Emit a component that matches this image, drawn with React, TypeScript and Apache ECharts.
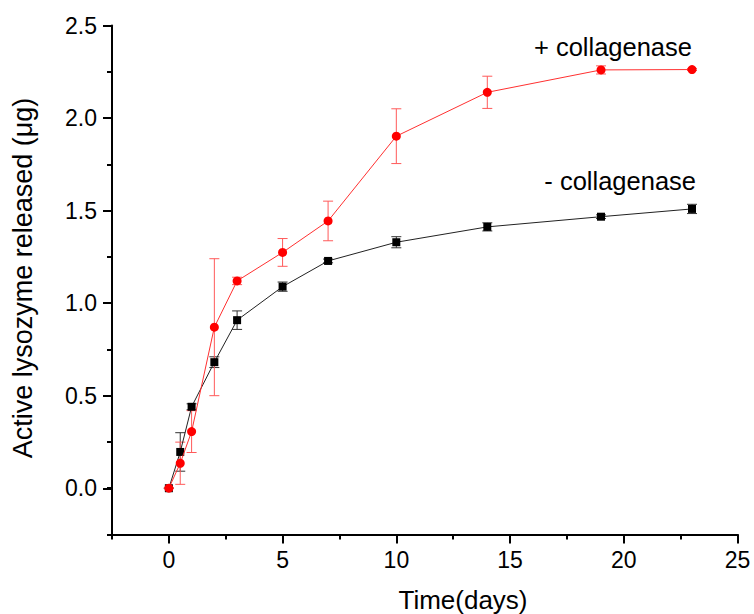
import React, { useEffect, useRef } from "react";
import * as echarts from "echarts";

const days = [0, 0.5, 1, 2, 3, 5, 7, 10, 14, 19, 23];
const plusValues = [0, 0.135, 0.306, 0.87, 1.12, 1.274, 1.444, 1.902, 2.139, 2.26, 2.262];
const plusErrors = [0, 0.114, 0.113, 0.37, 0.02, 0.075, 0.107, 0.148, 0.087, 0.022, 0.005];
const minusValues = [0, 0.196, 0.44, 0.681, 0.908, 1.089, 1.228, 1.329, 1.412, 1.467, 1.509];
const minusErrors = [0, 0.104, 0.016, 0.029, 0.05, 0.025, 0.01, 0.03, 0.022, 0.01, 0.025];
const xTicks = [0, 5, 10, 15, 20, 25];
const yTicks = [0, 0.5, 1, 1.5, 2, 2.5];
const plusLabel = "+ collagenase";
const minusLabel = "- collagenase";
const xTitle = "Time(days)";
const yTitle = "Active lysozyme released (μg)";

const FONT = "'Liberation Sans', Arial, Helvetica, sans-serif";

function errorBarSeries(values: number[], errors: number[], color: string) {
  return {
    type: "custom",
    xAxisIndex: 0,
    yAxisIndex: 0,
    z: 3,
    data: days.map((d, i) => [d, values[i] - errors[i], values[i] + errors[i]]),
    encode: { x: 0, y: [1, 2] },
    renderItem: (params: any, api: any) => {
      const x = api.value(0);
      const lo = api.coord([x, api.value(1)]);
      const hi = api.coord([x, api.value(2)]);
      const w = 5;
      const style = { stroke: color, lineWidth: 1 };
      return {
        type: "group",
        children: [
          { type: "line", shape: { x1: lo[0], y1: lo[1], x2: hi[0], y2: hi[1] }, style },
          { type: "line", shape: { x1: lo[0] - w, y1: lo[1], x2: lo[0] + w, y2: lo[1] }, style },
          { type: "line", shape: { x1: hi[0] - w, y1: hi[1], x2: hi[0] + w, y2: hi[1] }, style },
        ],
      };
    },
  };
}

export default function App() {
  const ref = useRef<HTMLDivElement>(null);
  useEffect(() => {
    if (!ref.current) return;
    const chart = echarts.init(ref.current, null, { renderer: "svg" });
    const axisLine = { show: true, onZero: false, lineStyle: { color: "#000", width: 2 } };
    const hiddenLine = { show: false, onZero: false };
    const option: any = {
      animation: false,
      backgroundColor: "#fff",
      grid: [
        { left: 112, top: 25.5, width: 625.5, height: 509 },
        { left: 169, top: 25.5, width: 568.5, height: 462.8 },
      ],
      xAxis: [
        {
          type: "value",
          gridIndex: 0,
          min: -2.5,
          max: 25,
          interval: 2.5,
          axisLine,
          axisTick: { show: true, length: 5, lineStyle: { color: "#000", width: 2 } },
          axisLabel: { show: false },
          splitLine: { show: false },
        },
        {
          type: "value",
          gridIndex: 1,
          min: 0,
          max: 25,
          interval: 5,
          offset: 46.2,
          axisLine: hiddenLine,
          axisTick: { show: true, length: 9, lineStyle: { color: "#000", width: 2 } },
          axisLabel: {
            show: true,
            margin: 14,
            color: "#000",
            fontSize: 23,
            fontFamily: FONT,
            formatter: (v: number) => (xTicks.includes(v) ? String(v) : ""),
          },
          splitLine: { show: false },
        },
      ],
      yAxis: [
        {
          type: "value",
          gridIndex: 0,
          min: -0.25,
          max: 2.5,
          interval: 0.25,
          axisLine,
          axisTick: { show: true, length: 5, lineStyle: { color: "#000", width: 2 } },
          axisLabel: { show: false },
          splitLine: { show: false },
        },
        {
          type: "value",
          gridIndex: 1,
          min: 0,
          max: 2.5,
          interval: 0.5,
          offset: 57,
          axisLine: hiddenLine,
          axisTick: { show: true, length: 9, lineStyle: { color: "#000", width: 2 } },
          axisLabel: {
            show: true,
            margin: 15,
            color: "#000",
            fontSize: 23,
            fontFamily: FONT,
            formatter: (v: number) => (yTicks.some((t) => Math.abs(t - v) < 1e-9) ? v.toFixed(1) : ""),
          },
          splitLine: { show: false },
        },
      ],
      series: [
        errorBarSeries(minusValues, minusErrors, "#333333"),
        {
          type: "line",
          xAxisIndex: 0,
          yAxisIndex: 0,
          z: 4,
          data: days.map((d, i) => [d, minusValues[i]]),
          symbol: "rect",
          symbolSize: 8,
          itemStyle: { color: "#000" },
          lineStyle: { color: "#222", width: 1 },
        },
        errorBarSeries(plusValues, plusErrors, "#ff5a5a"),
        {
          type: "line",
          xAxisIndex: 0,
          yAxisIndex: 0,
          z: 5,
          data: days.map((d, i) => [d, plusValues[i]]),
          symbol: "circle",
          symbolSize: 9,
          itemStyle: { color: "#ff0000" },
          lineStyle: { color: "#ff3030", width: 1 },
        },
      ],
      graphic: [
        {
          type: "text",
          x: 692,
          y: 47,
          style: { text: plusLabel, fill: "#000", fontSize: 25.5, fontFamily: FONT, align: "right", verticalAlign: "middle" },
        },
        {
          type: "text",
          x: 696,
          y: 181,
          style: { text: minusLabel, fill: "#000", fontSize: 25.5, fontFamily: FONT, align: "right", verticalAlign: "middle" },
        },
        {
          type: "text",
          x: 463,
          y: 600,
          style: { text: xTitle, fill: "#000", fontSize: 26, fontFamily: FONT, align: "center", verticalAlign: "middle" },
        },
        {
          type: "text",
          x: 23,
          y: 278,
          rotation: Math.PI / 2,
          style: { text: yTitle, fill: "#000", fontSize: 27, fontFamily: FONT, align: "center", verticalAlign: "middle" },
        },
      ],
    };
    chart.setOption(option);
    return () => chart.dispose();
  }, []);
  return <div ref={ref} style={{ position: "fixed", left: 0, top: 0, width: 754, height: 614 }} />;
}
